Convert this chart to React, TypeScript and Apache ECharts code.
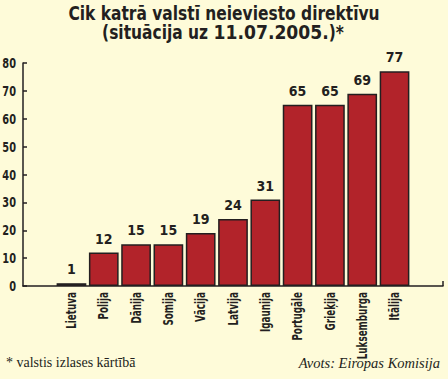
import React, { useEffect, useRef } from "react";
import * as echarts from "echarts";

const categories = ["", "Lietuva", "Polija", "Dānija", "Somija", "Vācija", "Latvija", "Igaunija", "Portugāle", "Grieķija", "Luksemburga", "Itālija", ""];
const values: (number | null)[] = [null, 1, 12, 15, 15, 19, 24, 31, 65, 65, 69, 77, null];
const yTicks = { min: 0, max: 80, interval: 10 };
const titleLine1 = "Cik katrā valstī neieviesto direktīvu";
const titleLine2 = ["(situācija uz ", "11.07.2005.", ")*"];
const footnote = "* valstis izlases kārtībā";
const source = "Avots: Eiropas Komisija";

const FONT = "'DejaVu Sans Condensed', 'Liberation Sans', sans-serif";
const WIDE = "'DejaVu Sans', 'Liberation Sans', sans-serif";
const DARK = "#231f20";

export default function App() {
  const ref = useRef<HTMLDivElement>(null);
  useEffect(() => {
    document.body.style.margin = "0";
    const chart = echarts.init(ref.current!, null, { renderer: "svg" });
    const baseGraphic: any[] = [
      { type: "line", shape: { x1: 443, y1: 281, x2: 443, y2: 286 }, style: { stroke: DARK, lineWidth: 1.5 } },
      {
        type: "text",
        left: 6,
        top: 355,
        style: { text: footnote, font: "14px 'Liberation Serif', 'DejaVu Serif', serif", fill: DARK },
      },
      {
        type: "text",
        right: 8,
        top: 355,
        style: { text: source, font: "italic 14.5px 'Liberation Serif', 'DejaVu Serif', serif", fill: DARK },
      },
      {
        type: "text",
        x: 224,
        y: 3,
        scaleX: 0.86,
        style: {
          text: titleLine1,
          font: `bold 20px ${FONT}`,
          fill: DARK,
          align: "center",
          textAlign: "center",
          verticalAlign: "top",
          textVerticalAlign: "top",
        },
      },
      {
        type: "text",
        x: 223,
        y: 22,
        scaleX: 0.86,
        style: {
          text: `{a|${titleLine2[0]}}{d|${titleLine2[1]}}{a|${titleLine2[2]}}`,
          fill: DARK,
          align: "center",
          textAlign: "center",
          verticalAlign: "top",
          textVerticalAlign: "top",
          rich: {
            a: { fontFamily: FONT, fontWeight: "bold", fontSize: 20, color: DARK },
            d: { fontFamily: WIDE, fontWeight: "bold", fontSize: 20, color: DARK },
          },
        },
      },
    ];
    chart.setOption({
      animation: false,
      backgroundColor: "#fefbd9",
      grid: { left: 23, right: 5, top: 63, bottom: 93, containLabel: false, outerBoundsMode: "none" },
      xAxis: {
        type: "category",
        data: categories,
        boundaryGap: true,
        axisLine: { lineStyle: { color: DARK, width: 1.5 } },
        axisTick: { show: false },
        axisLabel: { show: false },
      },
      yAxis: {
        type: "value",
        min: yTicks.min,
        max: yTicks.max,
        interval: yTicks.interval,
        splitLine: { show: false },
        axisLine: { show: true, lineStyle: { color: DARK, width: 1.5 } },
        axisTick: { show: true, inside: true, length: 4, lineStyle: { color: DARK, width: 1.5 } },
        axisLabel: { show: false },
      },
      series: [
        {
          type: "bar",
          data: values,
          barCategoryGap: "8%",
          itemStyle: { color: "#b2232a", borderColor: DARK, borderWidth: 1.5 },
          label: {
            show: true,
            position: "top",
            distance: 7,
            fontFamily: FONT,
            fontWeight: "bold",
            fontSize: 14,
            color: DARK,
          },
        },
      ],
      graphic: baseGraphic,
    });

    const xLabels = categories
      .map((c, i) => {
        if (!c) return null;
        const px = chart.convertToPixel({ xAxisIndex: 0 }, i) as number;
        return {
          type: "text",
          x: px,
          y: 292,
          rotation: Math.PI / 2,
          scaleX: 0.7,
          style: {
            text: c,
            font: `bold 14px ${FONT}`,
            fill: DARK,
            align: "right",
            textAlign: "right",
            verticalAlign: "middle",
            textVerticalAlign: "middle",
          },
        };
      })
      .filter(Boolean);

    const yLabels: any[] = [];
    for (let v = yTicks.min; v <= yTicks.max; v += yTicks.interval) {
      const py = chart.convertToPixel({ yAxisIndex: 0 }, v) as number;
      yLabels.push({
        type: "text",
        x: 16,
        y: py,
        scaleX: 0.78,
        style: {
          text: String(v),
          font: `bold 14px ${FONT}`,
          fill: DARK,
          align: "right",
          textAlign: "right",
          verticalAlign: "middle",
          textVerticalAlign: "middle",
        },
      });
    }

    chart.setOption({ graphic: [...baseGraphic, ...xLabels, ...yLabels] });
    return () => chart.dispose();
  }, []);
  return <div ref={ref} style={{ width: 448, height: 379 }} />;
}
